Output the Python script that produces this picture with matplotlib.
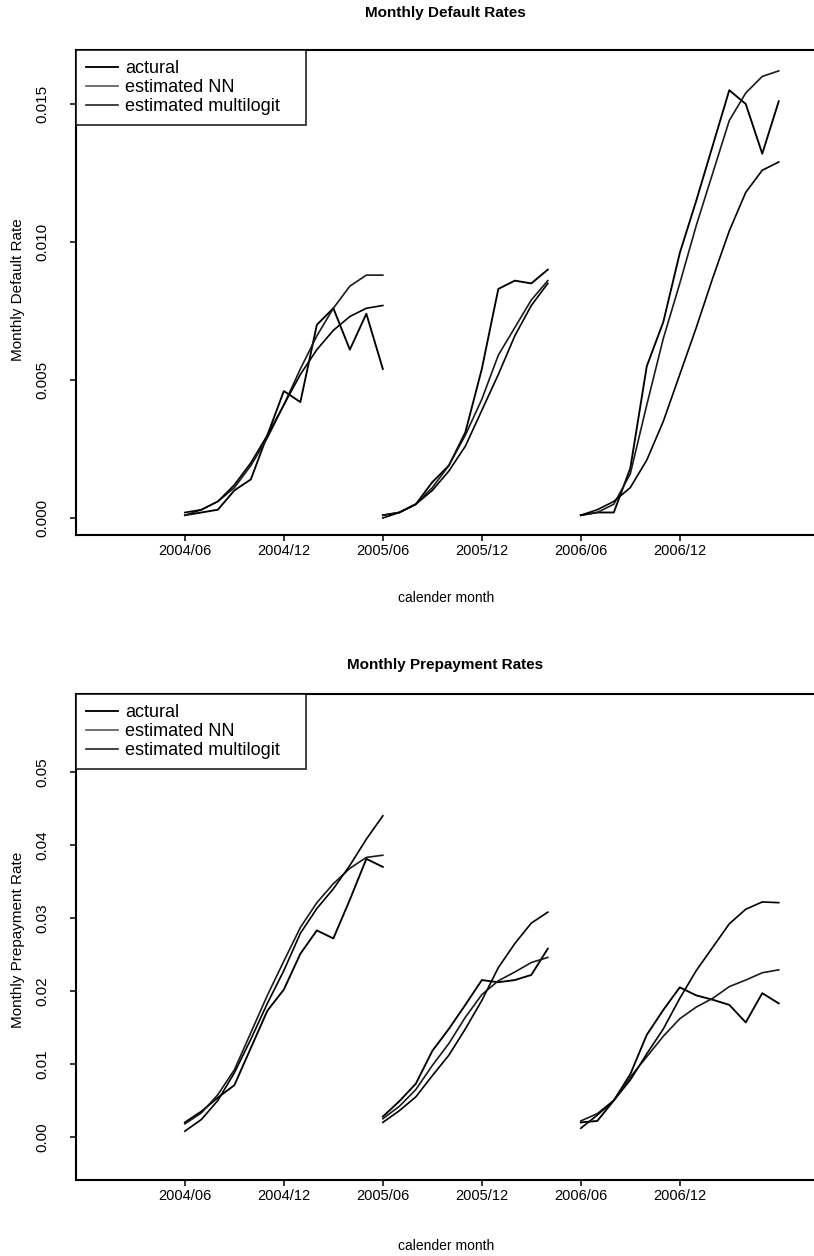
import matplotlib
matplotlib.use("Agg")
import matplotlib.pyplot as plt

# ---------------- data ----------------
# month index 0 = 2004/06
seg1_months = list(range(0, 13))      # 2004/06 .. 2005/06
seg2_months = list(range(12, 23))     # 2005/06 .. 2006/04
seg3_months = list(range(24, 37))     # 2006/06 .. 2007/06

tick_months = [0, 6, 12, 18, 24, 30]
tick_labels = ["2004/06", "2004/12", "2005/06", "2005/12", "2006/06", "2006/12"]

# Monthly default rates
def_actual_1 = [0.0001, 0.0002, 0.0003, 0.0010, 0.0014, 0.0030, 0.0046, 0.0042, 0.0070, 0.0076, 0.0061, 0.0074, 0.0054]
def_nn_1     = [0.0001, 0.0003, 0.0006, 0.0011, 0.0019, 0.0029, 0.0041, 0.0054, 0.0066, 0.0076, 0.0084, 0.0088, 0.0088]
def_ml_1     = [0.0002, 0.0003, 0.0006, 0.0012, 0.0020, 0.0030, 0.0041, 0.0052, 0.0061, 0.0068, 0.0073, 0.0076, 0.0077]

def_actual_2 = [0.0001, 0.0002, 0.0005, 0.0013, 0.0019, 0.0031, 0.0054, 0.0083, 0.0086, 0.0085, 0.0090]
def_nn_2     = [0.0001, 0.0002, 0.0005, 0.0011, 0.0019, 0.0030, 0.0043, 0.0059, 0.0069, 0.0079, 0.0086]
def_ml_2     = [0.0000, 0.0002, 0.0005, 0.0010, 0.0017, 0.0026, 0.0039, 0.0052, 0.0066, 0.0077, 0.0085]

def_actual_3 = [0.0001, 0.0002, 0.0002, 0.0018, 0.0055, 0.0071, 0.0096, 0.0115, 0.0135, 0.0155, 0.0150, 0.0132, 0.0151]
def_nn_3     = [0.0001, 0.0002, 0.0005, 0.0016, 0.0041, 0.0065, 0.0085, 0.0106, 0.0125, 0.0144, 0.0154, 0.0160, 0.0162]
def_ml_3     = [0.0001, 0.0003, 0.0006, 0.0011, 0.0021, 0.0035, 0.0052, 0.0069, 0.0087, 0.0104, 0.0118, 0.0126, 0.0129]

# Monthly prepayment rates
pre_actual_1 = [0.0020, 0.0035, 0.0054, 0.0071, 0.0122, 0.0173, 0.0202, 0.0251, 0.0283, 0.0272, 0.0325, 0.0381, 0.0370]
pre_nn_1     = [0.0018, 0.0033, 0.0058, 0.0092, 0.0143, 0.0194, 0.0241, 0.0287, 0.0321, 0.0347, 0.0368, 0.0383, 0.0386]
pre_ml_1     = [0.0008, 0.0024, 0.0050, 0.0088, 0.0134, 0.0183, 0.0228, 0.0279, 0.0313, 0.0340, 0.0372, 0.0408, 0.0440]

pre_actual_2 = [0.0028, 0.0049, 0.0073, 0.0118, 0.0148, 0.0181, 0.0215, 0.0212, 0.0215, 0.0222, 0.0258]
pre_nn_2     = [0.0025, 0.0042, 0.0065, 0.0098, 0.0128, 0.0164, 0.0195, 0.0214, 0.0226, 0.0239, 0.0246]
pre_ml_2     = [0.0020, 0.0036, 0.0055, 0.0084, 0.0112, 0.0148, 0.0187, 0.0232, 0.0265, 0.0293, 0.0308]

pre_actual_3 = [0.0020, 0.0022, 0.0050, 0.0086, 0.0140, 0.0174, 0.0205, 0.0194, 0.0188, 0.0181, 0.0157, 0.0197, 0.0183]
pre_nn_3     = [0.0022, 0.0032, 0.0050, 0.0082, 0.0110, 0.0138, 0.0162, 0.0178, 0.0190, 0.0206, 0.0215, 0.0225, 0.0229]
pre_ml_3     = [0.0012, 0.0030, 0.0050, 0.0078, 0.0114, 0.0148, 0.0190, 0.0228, 0.0260, 0.0292, 0.0312, 0.0322, 0.0321]

legend_labels = ["actural", "estimated NN", "estimated multilogit"]

# ---------------- figure ----------------
FONT = ["Liberation Sans", "DejaVu Sans"]
plt.rcParams["font.family"] = FONT

W, H = 814, 1256
fig = plt.figure(figsize=(W / 100, H / 100), dpi=100)

AX_LEFT, AX_RIGHT = 76, 820
LEGEND_RIGHT = 306


def px_axes(left, right, top, bottom):
    return fig.add_axes([left / W, 1 - bottom / H, (right - left) / W, (bottom - top) / H])


def ftext(x, y, s, **kw):
    fig.text(x / W, 1 - y / H, s, ha="center", va="center", **kw)


def draw_panel(ax, segs, ylim, yticks, yticklabels):
    for (months, act, nn, ml) in segs:
        ax.plot(months, act, color="black", lw=1.35)
        ax.plot(months, nn, color="#1a1a1a", lw=1.2)
        ax.plot(months, ml, color="black", lw=1.2)
    ax.set_xlim(-6.6, 38.5)
    ax.set_ylim(*ylim)
    ax.set_xticks(tick_months)
    ax.set_xticklabels(tick_labels, fontsize=10.5)
    ax.set_yticks(yticks)
    ax.set_yticklabels(yticklabels, rotation=90, va="center", fontsize=11)
    ax.tick_params(axis="both", direction="out", length=4.5, width=1.1, color="black")
    ax.tick_params(axis="x", pad=1.8)
    ax.tick_params(axis="y", pad=14.5)
    for s in ["left", "top", "bottom"]:
        ax.spines[s].set_linewidth(1.5)
    ax.spines["right"].set_visible(False)
    handles = [
        plt.Line2D([], [], color="black", lw=1.35),
        plt.Line2D([], [], color="#555555", lw=1.2),
        plt.Line2D([], [], color="#222222", lw=1.2),
    ]
    wfrac = (LEGEND_RIGHT - AX_LEFT) / (AX_RIGHT - AX_LEFT)
    leg = ax.legend(handles, legend_labels, loc="upper left",
                    bbox_to_anchor=(0, 1, wfrac, 0), mode="expand",
                    frameon=True, fancybox=False, borderaxespad=0,
                    handlelength=1.75, handletextpad=0.4, labelspacing=0.12,
                    borderpad=0.55, prop={"size": 13})
    fr = leg.get_frame()
    fr.set_edgecolor("black")
    fr.set_linewidth(1.3)


ax1 = px_axes(AX_LEFT, AX_RIGHT, 50, 535)
draw_panel(ax1,
           [(seg1_months, def_actual_1, def_nn_1, def_ml_1),
            (seg2_months, def_actual_2, def_nn_2, def_ml_2),
            (seg3_months, def_actual_3, def_nn_3, def_ml_3)],
           (-0.000616, 0.016957),
           [0.0, 0.005, 0.010, 0.015], ["0.000", "0.005", "0.010", "0.015"])

ax2 = px_axes(AX_LEFT, AX_RIGHT, 694, 1180)
draw_panel(ax2,
           [(seg1_months, pre_actual_1, pre_nn_1, pre_ml_1),
            (seg2_months, pre_actual_2, pre_nn_2, pre_ml_2),
            (seg3_months, pre_actual_3, pre_nn_3, pre_ml_3)],
           (-0.00589, 0.060685),
           [0.0, 0.01, 0.02, 0.03, 0.04, 0.05], ["0.00", "0.01", "0.02", "0.03", "0.04", "0.05"])

# titles and axis labels
ftext(445, 13, "Monthly Default Rates", fontsize=11, fontweight="bold")
ftext(446, 598, "calender month", fontsize=10)
ftext(18, 290, "Monthly Default Rate", fontsize=11, rotation=90)

ftext(445, 665, "Monthly Prepayment Rates", fontsize=11, fontweight="bold")
ftext(446, 1246, "calender month", fontsize=10)
ftext(18, 940, "Monthly Prepayment Rate", fontsize=11, rotation=90)

fig.savefig("out.png", dpi=100)
